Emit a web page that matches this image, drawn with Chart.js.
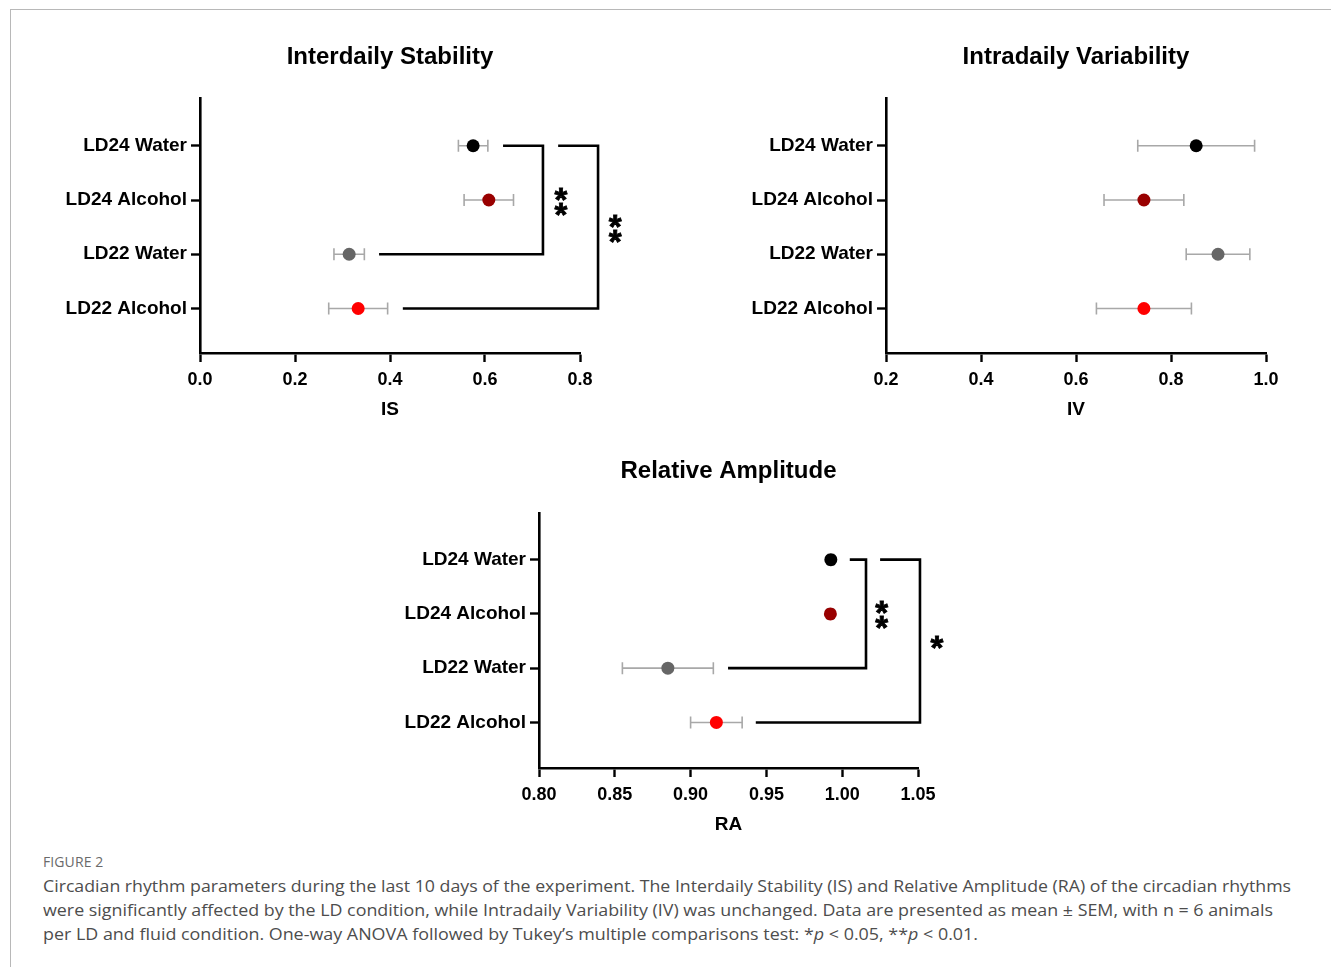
<!DOCTYPE html>
<html>
<head>
<meta charset="utf-8">
<script src="https://cdn.jsdelivr.net/npm/chart.js@4.4.1/dist/chart.umd.min.js"></script>
<style>
  html, body { margin: 0; padding: 0; background: #fff; }
  body { width: 1331px; height: 967px; position: relative; overflow: hidden; }
  .frame-top { position: absolute; left: 10px; top: 9px; width: 1321px; height: 1px; background: #b8b8b8; }
  .frame-left { position: absolute; left: 10px; top: 9px; width: 1px; height: 958px; background: #b8b8b8; }
  .box { position: absolute; }
  #caption { position: absolute; left: 43px; top: 850px; font-family: "Open Sans", "Noto Sans", sans-serif; color: #4d4d4d; }
  #caption .fig { font-size: 14px; line-height: 24px; color: #6a6a6a; letter-spacing: 0.1px; }
  #caption .line { font-size: 17px; line-height: 24px; white-space: nowrap; }
  #caption .line span { display: inline-block; transform-origin: 0 50%; }
</style>
</head>
<body>
<div class="frame-top"></div>
<div class="frame-left"></div>

<div class="box" style="left:0px;top:0px;width:665px;height:440px"><canvas id="isChart"></canvas></div>
<div class="box" style="left:680px;top:0px;width:651px;height:440px"><canvas id="ivChart"></canvas></div>
<div class="box" style="left:330px;top:420px;width:670px;height:420px"><canvas id="raChart"></canvas></div>

<div id="caption">
  <div class="fig">FIGURE 2</div>
  <div class="line"><span data-w="1248">Circadian rhythm parameters during the last 10 days of the experiment. The Interdaily Stability (IS) and Relative Amplitude (RA) of the circadian rhythms</span></div>
  <div class="line"><span data-w="1230">were significantly affected by the LD condition, while Intradaily Variability (IV) was unchanged. Data are presented as mean ± SEM, with n = 6 animals</span></div>
  <div class="line"><span data-w="935">per LD and fluid condition. One-way ANOVA followed by Tukey’s multiple comparisons test: *<i>p</i> &lt; 0.05, **<i>p</i> &lt; 0.01.</span></div>
</div>

<script>
const groups = ['LD24 Water', 'LD24 Alcohol', 'LD22 Water', 'LD22 Alcohol'];
const groupColors = ['#000000', '#990000', '#666666', '#ff0000'];

const isMean = [0.575, 0.608, 0.314, 0.333];
const isSem = [0.031, 0.052, 0.032, 0.062];
const isTicks = [0, 0.2, 0.4, 0.6, 0.8];

const ivMean = [0.853, 0.743, 0.899, 0.743];
const ivSem = [0.123, 0.084, 0.067, 0.100];
const ivTicks = [0.2, 0.4, 0.6, 0.8, 1.0];

const raMean = [0.9925, 0.9922, 0.885, 0.917];
const raSem = [0.002, 0.002, 0.030, 0.017];
const raTicks = [0.80, 0.85, 0.90, 0.95, 1.00, 1.05];

// significance brackets, corners as [value, group index]
const isBrackets = [
  [[0.638, 0], [0.722, 0], [0.722, 2], [0.377, 2]],
  [[0.754, 0], [0.838, 0], [0.838, 3], [0.427, 3]]
];
const isStars = [[0.76, 1, '**'], [0.874, 1.51, '**']];

const raBrackets = [
  [[1.005, 0], [1.0157, 0], [1.0157, 2], [0.9247, 2]],
  [[1.025, 0], [1.0513, 0], [1.0513, 3], [0.943, 3]]
];
const raStars = [[1.026, 1, '**'], [1.0625, 1.49, '*']];

const FONT = '"Liberation Sans", Arial, Helvetica, sans-serif';

const errorBars = {
  id: 'errorBars',
  beforeDatasetsDraw(chart, args, opts) {
    const { ctx, scales: { x, y } } = chart;
    ctx.save();
    ctx.strokeStyle = '#a8a8a8';
    ctx.lineWidth = 1.6;
    opts.mean.forEach((m, i) => {
      const py = y.getPixelForValue(i);
      const x0 = x.getPixelForValue(m - opts.sem[i]);
      const x1 = x.getPixelForValue(m + opts.sem[i]);
      ctx.beginPath();
      ctx.moveTo(x0, py); ctx.lineTo(x1, py);
      ctx.moveTo(x0, py - 6); ctx.lineTo(x0, py + 6);
      ctx.moveTo(x1, py - 6); ctx.lineTo(x1, py + 6);
      ctx.stroke();
    });
    ctx.restore();
  },
  afterDatasetsDraw(chart, args, opts) {
    const { ctx, scales: { x, y } } = chart;
    ctx.save();
    ctx.fillStyle = '#000';
    ctx.strokeStyle = '#000';
    ctx.lineWidth = 0.8;
    ctx.font = 'bold 33px ' + FONT;
    ctx.textAlign = 'center';
    ctx.textBaseline = 'alphabetic';
    (opts.stars || []).forEach(([v, g, txt]) => {
      const px = x.getPixelForValue(v);
      const py = y.getPixelForValue(g);
      const n = txt.length;
      for (let k = 0; k < n; k++) {
        const cy = py + (k - (n - 1) / 2) * 15;
        ctx.fillText('*', px, cy + 18);
        ctx.strokeText('*', px, cy + 18);
      }
    });
    ctx.restore();
  }
};

function axisCommon() {
  return {
    grid: { drawOnChartArea: false, drawTicks: true, tickLength: 9, tickColor: '#000', tickWidth: 2.4 },
    border: { display: true, color: '#000', width: 2.6 }
  };
}

function makeChart(id, cfg) {
  const points = {
    type: 'scatter',
    data: cfg.mean.map((m, i) => ({ x: m, y: i })),
    pointBackgroundColor: groupColors,
    pointBorderColor: groupColors,
    pointRadius: 6.5,
    pointBorderWidth: 0,
    clip: false
  };
  const brackets = (cfg.brackets || []).map((b) => ({
    type: 'scatter',
    data: b.map(([v, g]) => ({ x: v, y: g })),
    showLine: true,
    borderColor: '#000',
    borderWidth: 2.6,
    borderJoinStyle: 'miter',
    pointRadius: 0,
    clip: false
  }));

  return new Chart(document.getElementById(id), {
    type: 'scatter',
    data: { datasets: [...brackets, points] },
    options: {
      responsive: true,
      maintainAspectRatio: false,
      animation: false,
      layout: { padding: { left: 0, right: cfg.padRight, top: 0, bottom: 0 } },
      plugins: {
        legend: { display: false },
        tooltip: { enabled: false },
        title: {
          display: true,
          text: cfg.title,
          color: '#000',
          fullSize: false,
          font: { family: FONT, size: 24, weight: 'bold', lineHeight: 1.2 },
          padding: { top: cfg.titleTop, bottom: cfg.titleBottom }
        },
        errorBars: { mean: cfg.mean, sem: cfg.sem, stars: cfg.stars }
      },
      scales: {
        x: {
          type: 'linear',
          min: cfg.ticks[0],
          max: cfg.ticks[cfg.ticks.length - 1],
          afterBuildTicks: (s) => { s.ticks = cfg.ticks.map((v) => ({ value: v })); },
          afterFit: (s) => { s.height = cfg.xHeight; },
          ...axisCommon(),
          ticks: {
            color: '#000',
            autoSkip: false,
            maxRotation: 0,
            padding: 7,
            font: { family: FONT, size: 18, weight: 'bold' },
            callback: (v) => Number(v).toFixed(cfg.decimals)
          },
          title: {
            display: true,
            text: cfg.axisTitle,
            color: '#000',
            font: { family: FONT, size: 19, weight: 'bold' },
            padding: { top: 0, bottom: cfg.axisTitleBottom }
          }
        },
        y: {
          type: 'linear',
          reverse: true,
          min: cfg.yMin,
          max: cfg.yMax,
          afterBuildTicks: (s) => { s.ticks = groups.map((g, i) => ({ value: i })); },
          afterFit: (s) => { s.width = cfg.yWidth; },
          ...axisCommon(),
          ticks: {
            color: '#000',
            autoSkip: false,
            padding: 4,
            font: { family: FONT, size: 19, weight: 'bold' },
            callback: (v) => groups[v]
          }
        }
      }
    },
    plugins: [errorBars]
  });
}

makeChart('isChart', {
  title: 'Interdaily Stability', axisTitle: 'IS',
  mean: isMean, sem: isSem, ticks: isTicks, decimals: 1,
  brackets: isBrackets, stars: isStars,
  yMin: -0.88, yMax: 3.82,
  yWidth: 200, xHeight: 87, padRight: 85,
  titleTop: 43, titleBottom: 26.2, axisTitleBottom: 19
});

makeChart('ivChart', {
  title: 'Intradaily Variability', axisTitle: 'IV',
  mean: ivMean, sem: ivSem, ticks: ivTicks, decimals: 1,
  brackets: [], stars: [],
  yMin: -0.88, yMax: 3.82,
  yWidth: 206, xHeight: 87, padRight: 65,
  titleTop: 43, titleBottom: 26.2, axisTitleBottom: 19
});

makeChart('raChart', {
  title: 'Relative Amplitude', axisTitle: 'RA',
  mean: raMean, sem: raSem, ticks: raTicks, decimals: 2,
  brackets: raBrackets, stars: raStars,
  yMin: -0.86, yMax: 3.84,
  yWidth: 209, xHeight: 72, padRight: 82,
  titleTop: 36.6, titleBottom: 27.6, axisTitleBottom: 4
});

// fit caption lines to the widths of the original layout
document.querySelectorAll('#caption .line span').forEach((el) => {
  const w = el.getBoundingClientRect().width;
  const target = Number(el.dataset.w);
  if (w > 0) el.style.transform = 'scaleX(' + (target / w) + ')';
});
</script>
</body>
</html>
